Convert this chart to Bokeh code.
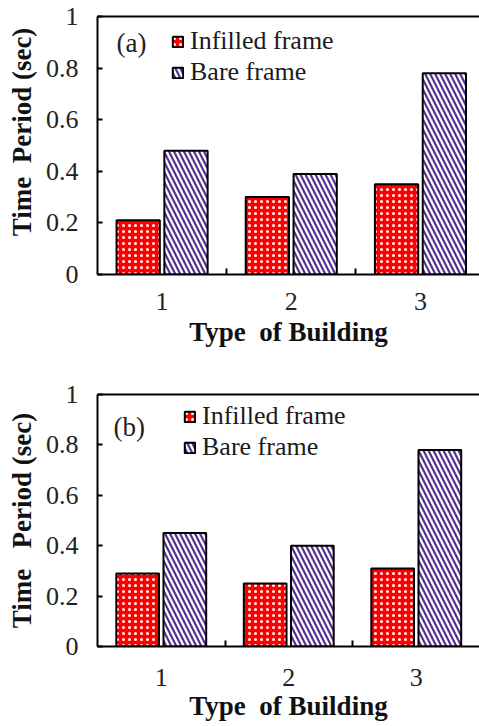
from bokeh.plotting import figure
from bokeh.models import (FixedTicker, LinearAxis, Range1d, Label, Legend,
                          LegendItem, ColumnDataSource)
from bokeh.transform import dodge
from bokeh.layouts import column
from bokeh.embed import file_html
from bokeh.resources import INLINE

# ---------------- data ----------------
categories = ["1", "2", "3"]
infilled_a = [0.21, 0.30, 0.35]
bare_a = [0.48, 0.39, 0.78]
infilled_b = [0.29, 0.25, 0.31]
bare_b = [0.45, 0.40, 0.78]
series_names = ["Infilled frame", "Bare frame"]
panel_tags = ["(a)", "(b)"]
y_ticks = [0, 0.2, 0.4, 0.6, 0.8, 1]
y_tick_labels = ["0", "0.2", "0.4", "0.6", "0.8", "1"]
x_title = "Type\u00a0 of Building"
y_titles = ["\u00a0\u00a0\u00a0\u00a0Time\u00a0 Period (sec)",
            "Time\u00a0\u00a0 Period (sec)"]

FONT = "Liberation Serif"
RED = "#ff0000"
PURPLE = "#55308f"


def make_panel(tag, infilled, bare, height, b_top, b_bottom, b_left, x_end,
               xl_standoff, xt_standoff, y_title, leg_x, leg_y, tag_x, tag_y):
    xs = list(range(1, len(categories) + 1))
    src = ColumnDataSource(dict(x=xs, inf=infilled, bare=bare))
    p = figure(width=479, height=height, output_backend="svg",
               toolbar_location=None,
               x_range=Range1d(0.5, x_end), y_range=Range1d(0, 1),
               min_border_left=b_left, min_border_right=0,
               min_border_top=b_top, min_border_bottom=b_bottom)
    p.outline_line_color = None
    p.xgrid.visible = False
    p.ygrid.visible = False
    p.background_fill_color = "white"
    p.border_fill_color = "white"

    r1 = p.vbar(x=dodge("x", -0.185), top="inf", width=0.335, source=src,
                fill_color=RED, line_color="black", line_width=2,
                hatch_pattern="dot", hatch_color="white", hatch_scale=6)
    r2 = p.vbar(x=dodge("x", 0.185), top="bare", width=0.335, source=src,
                fill_color="white", line_color="black", line_width=2,
                hatch_pattern="left_diagonal_line", hatch_color=PURPLE,
                hatch_scale=10, hatch_weight=2.2)

    # x axis
    xa = p.xaxis[0]
    xa.ticker = FixedTicker(ticks=xs, minor_ticks=[x + 0.5 for x in xs[:-1]])
    xa.major_label_overrides = {x: c for x, c in zip(xs, categories)}
    xa.major_tick_in = 0
    xa.major_tick_out = 0
    xa.minor_tick_in = 6
    xa.minor_tick_out = 0
    xa.minor_tick_line_width = 2
    xa.axis_line_width = 2
    xa.major_label_standoff = xl_standoff
    xa.major_label_text_font = FONT
    xa.major_label_text_font_size = "26px"
    xa.major_label_text_color = "#222222"
    xa.axis_label = x_title
    xa.axis_label_text_font = FONT
    xa.axis_label_text_font_style = "bold"
    xa.axis_label_text_font_size = "27px"
    xa.axis_label_text_color = "#111111"
    xa.axis_label_standoff = xt_standoff

    # y axis
    ya = p.yaxis[0]
    ya.ticker = FixedTicker(ticks=y_ticks, minor_ticks=[])
    ya.major_label_overrides = {t: l for t, l in zip(y_ticks, y_tick_labels)}
    ya.major_tick_in = 5
    ya.major_tick_out = 0
    ya.major_tick_line_width = 2
    ya.axis_line_width = 2
    ya.major_label_standoff = 19
    ya.major_label_text_font = FONT
    ya.major_label_text_font_size = "26px"
    ya.major_label_text_color = "#222222"
    ya.axis_label = y_title
    ya.axis_label_text_font = FONT
    ya.axis_label_text_font_style = "bold"
    ya.axis_label_text_font_size = "27px"
    ya.axis_label_text_color = "#111111"
    ya.axis_label_standoff = 6

    # top border line
    top = LinearAxis(ticker=FixedTicker(ticks=[]), major_tick_in=0,
                     major_tick_out=0, minor_tick_in=0, minor_tick_out=0,
                     major_label_standoff=0, axis_line_width=2,
                     major_label_text_font_size="0px")
    p.add_layout(top, "above")

    legend = Legend(items=[LegendItem(label=series_names[0], renderers=[r1]),
                           LegendItem(label=series_names[1], renderers=[r2])],
                    location=(leg_x, leg_y), padding=0, margin=0, spacing=1,
                    glyph_width=13, glyph_height=13, label_standoff=6,
                    border_line_color=None, background_fill_alpha=0)
    legend.label_text_font = FONT
    legend.label_text_font_style = "normal"
    legend.label_text_font_size = "26px"
    legend.label_text_color = "#1a1a1a"
    p.add_layout(legend)

    p.add_layout(Label(x=tag_x, y=tag_y, x_units="screen", y_units="screen",
                       text=tag, text_font=FONT, text_font_size="27px",
                       text_color="#222222", text_baseline="middle"))
    return p


pa = make_panel(panel_tags[0], infilled_a, bare_a, 360, 16, 86, 96, 3.457,
                18, 4, y_titles[0], 74, 187, 19, 232)
pb = make_panel(panel_tags[1], infilled_b, bare_b, 366, 34, 80, 97, 3.496,
                22, 2, y_titles[1], 86, 184, 16, 220)

layout = column(pa, pb, spacing=0)
open("out.html", "w").write(file_html(layout, INLINE))
